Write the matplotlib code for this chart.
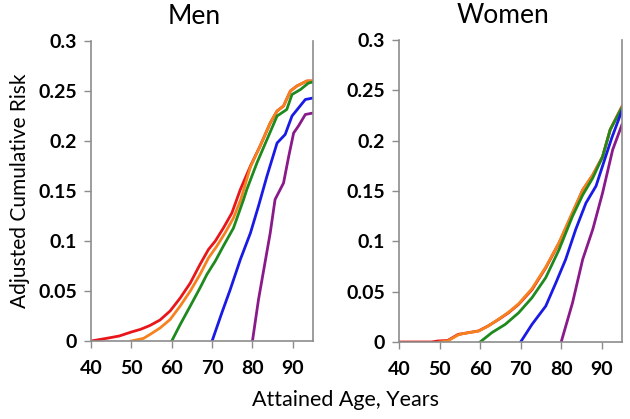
import matplotlib.pyplot as plt

plt.rcParams['font.family'] = ['Lato', 'DejaVu Sans']

# ages and cumulative risk (entry age 40, 50, 60, 70, 80)
men_red_x = [40, 43.9, 47, 50, 52.3, 54.6, 57.1, 59.6, 62.1, 64.6, 67, 69.1, 70.8, 72.8, 74.9, 77, 79.5, 81.9, 84.4, 86.1, 87.7, 89.4, 91, 93.5, 95]
men_red_y = [0, 0.0027, 0.005, 0.009, 0.0117, 0.0155, 0.021, 0.030, 0.043, 0.058, 0.0765, 0.0915, 0.100, 0.113, 0.128, 0.1515, 0.175, 0.195, 0.218, 0.23, 0.235, 0.25, 0.255, 0.26, 0.26]
men_orange_x = [50, 53, 54.6, 57.1, 59.6, 62.1, 64.6, 67, 69.1, 71.2, 73.2, 75.3, 77.1, 79.5, 81.9, 84.4, 86.1, 87.7, 89.4, 91, 93.5, 95]
men_orange_y = [0, 0.0026, 0.0065, 0.013, 0.0215, 0.035, 0.05, 0.0665, 0.083, 0.095, 0.108, 0.123, 0.1415, 0.174, 0.195, 0.218, 0.23, 0.235, 0.25, 0.255, 0.26, 0.26]
men_green_x = [60, 62.1, 64.6, 67, 68.7, 70.8, 72.8, 75.3, 77.8, 78.6, 81.1, 83.6, 86.1, 88.5, 89.8, 91.9, 93.9, 95]
men_green_y = [0, 0.0165, 0.035, 0.053, 0.0665, 0.080, 0.095, 0.113, 0.1415, 0.1515, 0.178, 0.2015, 0.225, 0.2315, 0.2465, 0.2515, 0.258, 0.259]
men_blue_x = [70, 72.4, 74.5, 77, 79.5, 81.5, 83.6, 86.1, 88.1, 89.8, 91.4, 93.1, 95]
men_blue_y = [0, 0.028, 0.0515, 0.0815, 0.108, 0.135, 0.165, 0.198, 0.2065, 0.225, 0.233, 0.2415, 0.243]
men_purple_x = [80, 81.5, 84.4, 85.6, 87.7, 89, 90.2, 91.4, 93.1, 95]
men_purple_y = [0, 0.0415, 0.108, 0.1415, 0.158, 0.185, 0.208, 0.215, 0.2265, 0.228]

women_red_x = [40, 48, 49.6, 52, 54.6, 56, 59.6, 62, 64.6, 67, 69.5, 72.8, 76.2, 79.5, 82.8, 85.3, 87.8, 90.2, 92.1, 95]
women_red_y = [0, 0, 0.001, 0.0015, 0.0076, 0.0085, 0.011, 0.016, 0.0225, 0.029, 0.0374, 0.052, 0.0737, 0.0985, 0.128, 0.151, 0.166, 0.184, 0.211, 0.234]
women_orange_x = [50, 52, 54.6, 56, 59.6, 62, 64.6, 67, 69.5, 72.8, 76.2, 79.5, 82.8, 85.3, 87.8, 90.2, 92.1, 95]
women_orange_y = [0, 0.001, 0.007, 0.0085, 0.0108, 0.0158, 0.0228, 0.0295, 0.038, 0.053, 0.0745, 0.099, 0.129, 0.151, 0.166, 0.184, 0.211, 0.234]
women_green_x = [60, 62.9, 66.2, 69.5, 72.8, 76.2, 79.5, 82.8, 85.3, 87.8, 90.2, 92.1, 95]
women_green_y = [0, 0.0093, 0.0175, 0.029, 0.044, 0.064, 0.092, 0.125, 0.146, 0.163, 0.184, 0.211, 0.233]
women_blue_x = [70, 72.8, 76.2, 78.7, 81.1, 83.6, 86.1, 88.6, 90.7, 92.5, 95]
women_blue_y = [0, 0.0175, 0.0357, 0.0589, 0.082, 0.112, 0.138, 0.155, 0.181, 0.203, 0.230]
women_purple_x = [80, 82.8, 85.3, 87.8, 90.2, 92.7, 95]
women_purple_y = [0, 0.039, 0.082, 0.112, 0.148, 0.191, 0.216]

colors = ['#e8161b', '#f5821f', '#1e8a1e', '#1a1ae6', '#8a1a8a']

men = [(men_red_x, men_red_y), (men_orange_x, men_orange_y), (men_green_x, men_green_y),
       (men_blue_x, men_blue_y), (men_purple_x, men_purple_y)]
women = [(women_red_x, women_red_y), (women_orange_x, women_orange_y), (women_green_x, women_green_y),
         (women_blue_x, women_blue_y), (women_purple_x, women_purple_y)]

fig = plt.figure(figsize=(6.3, 4.19), dpi=100)
ax1 = fig.add_axes([91/630, 78/419, 222/630, 300/419])
ax2 = fig.add_axes([399/630, 77/419, 223/630, 302/419])

for ax, series, title in [(ax1, men, 'Men'), (ax2, women, 'Women')]:
    for (x, y), c in zip(series, colors):
        ax.plot(x, y, color=c, lw=2)
    ax.set_xlim(40, 95)
    ax.set_ylim(0, 0.3)
    ax.set_xticks([40, 50, 60, 70, 80, 90])
    ax.set_yticks([0, 0.05, 0.1, 0.15, 0.2, 0.25, 0.3])
    ax.set_yticklabels(['0', '0.05', '0.1', '0.15', '0.2', '0.25', '0.3'])
    ax.spines['top'].set_visible(False)
    for s in ['left', 'right', 'bottom']:
        ax.spines[s].set_color('#8c8c8c')
        ax.spines[s].set_linewidth(1.2)
    ax.tick_params(direction='out', length=5, width=1, color='#8c8c8c', labelsize=14)
    ax.tick_params(axis='x', pad=9)
    ax.tick_params(axis='y', pad=5)
    for lbl in ax.get_xticklabels() + ax.get_yticklabels():
        lbl.set_fontweight('bold')
    ax.set_title(title, fontsize=19, pad=12, x=0.467)

ax1.set_ylabel('Adjusted Cumulative Risk', fontsize=15, labelpad=6)
fig.text(345/630, 0.03, 'Attained Age, Years', ha='center', fontsize=15.5)

fig.savefig('out.png', dpi=100)
